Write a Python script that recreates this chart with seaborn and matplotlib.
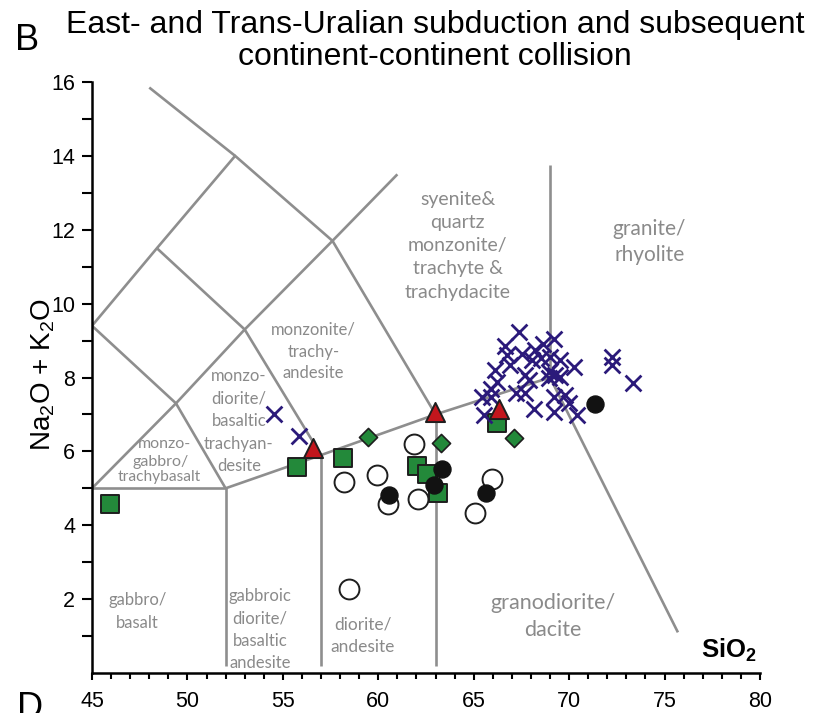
import matplotlib
matplotlib.use("Agg")
import matplotlib.pyplot as plt
import seaborn as sns

# ---------------------------------------------------------------
# Sample compositions (SiO2 wt%, Na2O + K2O wt%) by symbol group
# ---------------------------------------------------------------
open_circle_sio2 = [58.22, 59.94, 61.86, 60.49, 62.09, 65.96, 65.09, 58.45]
open_circle_alk = [5.17, 5.37, 6.19, 4.57, 4.70, 5.24, 4.34, 2.28]

filled_circle_sio2 = [60.58, 63.32, 62.94, 65.65, 71.38]
filled_circle_alk = [4.83, 5.51, 5.10, 4.87, 7.27]

square_sio2 = [55.74, 58.13, 62.03, 62.56, 63.11, 66.23, 45.96]
square_alk = [5.58, 5.82, 5.60, 5.40, 4.86, 6.77, 4.57]

diamond_sio2 = [59.47, 63.29, 67.10]
diamond_alk = [6.38, 6.23, 6.35]

triangle_sio2 = [56.56, 62.96, 66.35]
triangle_alk = [6.08, 7.07, 7.16]

cross_sio2 = [67.36, 66.66, 68.64, 69.19, 66.75, 67.54, 68.23, 68.06, 68.50,
              69.02, 69.54, 70.24, 66.92, 66.14, 67.71, 68.93, 69.28, 69.54,
              66.23, 67.88, 68.93, 65.88, 65.44, 65.88, 67.19, 67.71, 69.19,
              69.80, 68.14, 69.19, 69.98, 70.42, 65.52, 72.25, 72.25, 73.35,
              54.52, 55.83]
cross_alk = [9.24, 8.86, 8.92, 9.04, 8.61, 8.63, 8.74, 8.47, 8.52,
             8.56, 8.47, 8.29, 8.34, 8.20, 8.06, 8.15, 8.06, 8.02,
             7.88, 7.93, 7.98, 7.70, 7.48, 7.48, 7.57, 7.57, 7.48,
             7.52, 7.14, 7.07, 7.30, 6.98, 6.98, 8.56, 8.35, 7.84,
             7.01, 6.41]

# ---------------------------------------------------------------
# TAS (plutonic) classification field boundaries
# ---------------------------------------------------------------
boundary_lines = [
    ([45, 52], [5, 5]),
    ([52, 52], [0.2, 5]),
    ([57, 57], [0.2, 5.9]),
    ([63, 63], [0.2, 7]),
    ([52, 57, 63, 69], [5, 5.9, 7, 8]),
    ([69, 69], [8, 13.75]),
    ([69, 75.7], [8, 1.1]),
    ([45, 49.4, 52], [9.4, 7.3, 5]),
    ([45, 49.4, 53, 57], [5, 7.3, 9.3, 5.9]),
    ([45, 48.4, 53, 57.6, 63], [9.4, 11.5, 9.3, 11.7, 7]),
    ([48.4, 52.5, 57.6, 61], [11.5, 14, 11.7, 13.5]),
    ([52.5, 48.0], [14, 15.85]),
]

# Field names with their anchor (SiO2, alkalis), font size and line spacing
field_names = [
    "syenite&\nquartz\nmonzonite/\ntrachyte &\ntrachydacite",
    "granite/\nrhyolite",
    "monzonite/\ntrachy-\nandesite",
    "monzo-\ndiorite/\nbasaltic\ntrachyan-\ndesite",
    "monzo-",
    "gabbro/",
    "trachybasalt",
    "gabbro/\nbasalt",
    "gabbroic\ndiorite/\nbasaltic\nandesite",
    "diorite/\nandesite",
    "granodiorite/\ndacite",
]
field_x = [64.17, 74.21, 56.61, 52.69, 48.79, 48.58, 48.53, 47.39, 53.79, 59.18, 69.15]
field_y = [11.57, 11.67, 8.70, 6.82, 6.19, 5.70, 5.30, 1.67, 1.18, 1.00, 1.53]
field_size = [14, 15, 12, 12, 11.5, 11.5, 11.2, 12, 12, 12.5, 15.5]
field_spacing = [1.45, 1.35, 1.45, 1.5, 1.0, 1.0, 1.0, 1.5, 1.5, 1.5, 1.4]

x_ticks = [45, 50, 55, 60, 65, 70, 75, 80]
y_ticks = [2, 4, 6, 8, 10, 12, 14, 16]

# ---------------------------------------------------------------
sns.set_theme(style="ticks")
plt.rcParams["font.family"] = ["Liberation Sans", "DejaVu Sans"]
plt.rcParams["mathtext.fontset"] = "custom"
plt.rcParams["mathtext.rm"] = "Liberation Sans"
plt.rcParams["mathtext.bf"] = "Liberation Sans:bold"
for key in ("text.color", "axes.labelcolor", "xtick.color", "ytick.color",
            "xtick.labelcolor", "ytick.labelcolor"):
    plt.rcParams[key] = "black"

fig = plt.figure(figsize=(8.16, 7.13), dpi=100)
ax = fig.add_axes([92 / 816, 40 / 713, 668 / 816, 591 / 713])

line_grey = "#8e8e8e"
text_grey = "#8a8a8a"
for xs, ys in boundary_lines:
    ax.plot(xs, ys, color=line_grey, lw=1.9, solid_capstyle="butt", zorder=1)

for label, tx, ty, fs, sp in zip(field_names, field_x, field_y, field_size, field_spacing):
    ax.text(tx, ty, label, ha="center", va="center", color=text_grey,
            fontsize=fs, linespacing=sp, family=["Lato", "DejaVu Sans"], zorder=2)

green = "#23893a"
red = "#c3161d"
navy = "#2b1a7a"
edge = "#1e1e1e"

sns.scatterplot(x=open_circle_sio2, y=open_circle_alk, marker="o", s=205,
                color="white", edgecolor=edge, linewidth=1.4, ax=ax, zorder=3)
sns.scatterplot(x=square_sio2, y=square_alk, marker="s", s=175,
                color=green, edgecolor=edge, linewidth=1.4, ax=ax, zorder=4)
sns.scatterplot(x=diamond_sio2, y=diamond_alk, marker="D", s=85,
                color=green, edgecolor=edge, linewidth=1.2, ax=ax, zorder=4)
sns.scatterplot(x=filled_circle_sio2, y=filled_circle_alk, marker="o", s=150,
                color="#121212", edgecolor="#121212", linewidth=1.0, ax=ax, zorder=5)
sns.scatterplot(x=cross_sio2, y=cross_alk, marker="x", s=130,
                color=navy, linewidth=2.0, ax=ax, zorder=6)
sns.scatterplot(x=triangle_sio2, y=triangle_alk, marker="^", s=190,
                color=red, edgecolor=edge, linewidth=1.4, ax=ax, zorder=7)

ax.set_xlim(45, 80)
ax.set_ylim(0, 16)
ax.set_xticks(x_ticks)
ax.set_xticks(range(45, 81), minor=True)
ax.set_yticks(y_ticks)
ax.set_yticks(range(1, 17, 2), minor=True)
ax.tick_params(axis="both", which="both", direction="out", color="black",
               labelcolor="black", width=1.5, labelsize=15.5)
ax.tick_params(axis="x", which="major", length=5, pad=8)
ax.tick_params(axis="x", which="minor", length=4)
ax.tick_params(axis="y", which="both", length=7, pad=5)
for side in ("top", "right"):
    ax.spines[side].set_visible(False)
for side in ("left", "bottom"):
    ax.spines[side].set_linewidth(1.8)
    ax.spines[side].set_color("black")

ax.set_ylabel("Na$_2$O + K$_2$O", fontsize=20, color="black")
ax.yaxis.set_label_coords(-0.052, 0.505)
ax.text(78.35, 0.61, "SiO$_\\mathbf{2}$", fontsize=18.5, fontweight="bold",
        ha="center", va="center", color="black")

fig.text(0.533, 0.9425, "East- and Trans-Uralian subduction and subsequent\ncontinent-continent collision",
         ha="center", va="center", fontsize=23, linespacing=1.1, color="black")
fig.text(0.033, 0.9425, "B", ha="center", va="center", fontsize=26, color="black")
fig.text(0.037, 0.031, "D", ha="center", va="top", fontsize=26, color="black")

fig.savefig("out.png", dpi=100)
